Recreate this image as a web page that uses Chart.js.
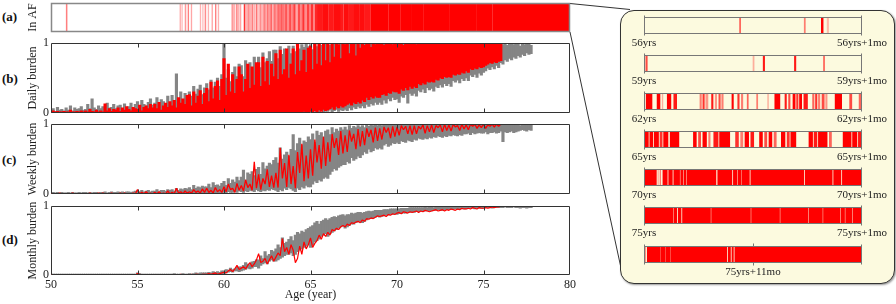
<!DOCTYPE html>
<html>
<head>
<meta charset="utf-8">
<script src="https://cdn.jsdelivr.net/npm/chart.js@4/dist/chart.umd.min.js"></script>
<style>
body{margin:0;background:#fff;width:896px;height:304px;position:relative;overflow:hidden;font-family:"Liberation Serif",serif}
canvas{position:absolute}
.tag{position:absolute;left:2px;font:bold 13px "Liberation Serif",serif;color:#111}
#zoombox{position:absolute;left:620px;top:10px;width:273px;height:272px;background:#fcfadf;border:1px solid #333;border-radius:14px;box-shadow:1px 1px 2px #999}
svg{position:absolute;left:0;top:0}
</style>
</head>
<body>
<svg width="896" height="304"><line x1="570" y1="3.5" x2="630" y2="9.5" stroke="#333" stroke-width="1"/><line x1="570" y1="32" x2="621" y2="268" stroke="#333" stroke-width="1"/></svg>
<div id="zoombox"></div>
<div class="tag" style="top:9px">(a)</div>
<div class="tag" style="top:71px">(b)</div>
<div class="tag" style="top:152px">(c)</div>
<div class="tag" style="top:232px">(d)</div>
<script>
// burden in percent, one bin every 1/8 year starting at age 50
// *Lo / *Hi = lowest and highest burden seen inside each bin
var startAge = 50;
var sampleStep = 0.125;

var dailyGreyHi = [
3,6,2,8,4,5,3,7, 4,10,3,7,5,6,9,4, 5,12,6,20,7,5,10,6, 9,4,14,7,8,12,6,10,
11,5,13,8,9,14,7,12, 16,9,18,12,10,15,20,11, 14,22,10,19,16,12,24,15, 25,15,56,20,30,18,28,22,
30,24,38,27,34,40,26,36, 42,33,47,36,44,50,38,55, 100,50,62,45,58,66,52,70, 68,52,75,60,72,64,80,70,
80,65,86,72,78,88,74,90, 90,78,95,84,92,88,96,85, 96,88,100,92,98,94,100,95, 98,91,100,95,100,97,99,100,
100,97,100,99,100,98,100,100, 100,99,100,100,98,100,100,100, 100,100,100,100,100,100,100,100, 100,100,100,100,100,100,100,100,
100,100,100,100,100,100,100,100, 100,100,100,100,100,100,100,100, 100,100,100,100,100,100,100,100, 100,100,100,100,100,100,100,100,
100,100,100,100,100,100,100,100, 100,100,100,100,100,100,100,100, 100,98,100,97,99,100,98,100, 100,96,100,98,99,100,97
];
var dailyGreyLo = [
0,0,0,0,0,0,0,0, 0,0,0,0,0,0,0,0, 0,0,0,0,0,0,0,0, 0,0,0,0,0,0,0,0,
0,0,0,0,0,0,0,0, 0,0,0,0,0,0,0,0, 0,0,0,0,0,0,0,0, 0,0,0,0,0,0,0,0,
0,0,0,0,0,0,0,0, 0,0,0,0,0,0,0,0, 0,0,0,0,0,0,0,0, 0,0,0,0,0,0,0,0,
0,0,0,0,0,0,0,0, 0,0,0,1,0,0,1,0, 0,1,0,0,2,0,1,0, 1,0,2,1,0,3,1,2,
2,4,1,3,5,2,4,3, 5,3,7,4,8,6,9,7, 10,7,12,9,13,11,15,12, 15,12,18,14,20,17,22,19,
20,15,24,22,26,14,28,25, 28,24,32,30,34,29,36,33, 35,31,38,36,40,37,42,39, 42,38,46,44,47,43,49,46,
50,46,54,52,55,51,57,54, 58,60,64,62,66,63,68,65, 72,70,76,74,78,76,80,78, 82,80,84,82,86,84,85
];
var dailyRedHi = [
0,3,0,2,1,0,2,0, 0,4,1,0,2,0,3,1, 3,0,5,2,0,4,1,3, 0,13,3,6,2,5,4,7,
2,7,4,9,5,3,8,6, 5,11,3,8,10,6,12,7, 12,6,15,4,10,14,8,16, 10,18,7,22,14,20,12,25,
26,10,30,14,24,32,12,28, 35,16,44,20,38,46,18,48, 78,25,70,30,55,28,48,66, 55,30,48,70,35,66,40,72,
72,38,80,45,74,40,70,52, 85,48,90,55,62,92,50,70, 92,55,100,60,75,90,58,93, 96,62,100,70,100,68,100,75,
100,72,100,80,100,98,78,100, 98,100,85,100,100,82,100,93, 100,97,100,100,94,100,98,100, 100,100,97,100,100,100,98,100,
100,100,100,97,100,100,100,100, 100,98,100,100,100,100,100,100, 100,100,100,100,99,100,100,100, 100,100,100,100,100,100,100,100,
100,100,100,100,100,100,100,100, 100,100,100,100,100,100,100,100, 100
];
var dailyRedLo = [
0,0,0,0,0,0,0,0, 0,0,0,0,0,0,0,0, 0,0,0,0,0,0,0,0, 0,0,0,0,0,0,0,0,
0,0,0,0,0,0,0,0, 0,0,0,0,0,0,0,0, 0,0,0,0,0,0,0,0, 0,0,0,0,0,0,0,0,
0,0,0,0,0,0,0,0, 0,0,0,0,0,0,0,0, 0,0,0,0,0,0,0,0, 0,0,0,0,0,0,0,0,
0,0,0,0,0,0,0,0, 0,0,0,0,0,0,0,0, 0,0,1,0,0,2,0,1, 2,0,3,1,4,2,5,3,
4,6,8,5,9,7,10,8, 10,12,14,11,15,13,16,14, 18,16,22,19,23,21,24,22, 22,26,27,25,29,28,31,30,
30,28,34,32,36,33,38,35, 38,36,42,40,43,41,45,44, 45,44,48,47,50,49,52,51, 52,51,55,54,56,55,58,57,
60,58,63,62,64,63,66,65, 66,68,70,72,71,73,72,74, 75
];
var weeklyGreyHi = [
1,2,1,2,1,2,1,1, 2,1,2,1,1,2,1,2, 2,1,2,1,2,2,1,2, 2,3,1,2,3,2,2,3,
2,3,2,3,3,2,3,4, 4,3,5,3,4,5,3,4, 4,6,3,5,5,4,6,5, 6,4,8,5,7,6,8,7,
9,6,12,8,10,9,11,10, 10,14,9,16,12,13,11,15, 18,12,22,15,20,17,24,19, 24,34,20,30,28,32,26,35,
38,28,45,36,40,44,42,48, 52,44,66,50,56,60,54,64, 85,62,72,80,70,76,74,82, 78,86,74,90,84,88,82,90,
92,85,95,88,93,90,95,92, 96,92,98,94,97,95,98,96, 98,95,100,97,99,98,100,98, 100,98,100,99,100,99,100,100,
100,100,100,100,100,100,100,100, 100,100,100,100,100,100,100,100, 100,100,100,100,100,100,100,100, 100,100,100,100,100,100,100,100,
100,100,100,100,100,100,100,100, 100,100,100,100,100,100,100,100, 100,99,100,100,100,99,100,100, 100,98,100,99,100,100,99
];
var weeklyGreyLo = [
0,0,0,0,0,0,0,0, 0,0,0,0,0,0,0,0, 0,0,0,0,0,0,0,0, 0,0,0,0,0,0,0,0,
0,0,0,0,0,0,0,0, 0,0,0,0,0,0,0,0, 0,0,0,0,0,0,0,0, 0,0,0,0,0,0,0,0,
0,0,0,0,0,0,0,0, 0,0,0,0,0,0,0,0, 2,1,3,2,2,3,2,4, 3,2,4,3,5,4,3,6,
4,3,5,4,6,5,7,6, 5,3,6,4,8,6,9,7, 5,3,8,6,10,8,12,10, 10,14,18,16,20,18,22,24,
22,28,32,36,34,38,40,42, 42,46,44,52,48,50,54,52, 56,60,58,64,60,62,66,64, 66,64,70,72,68,70,73,72,
74,72,76,75,74,77,76,75, 78,77,80,79,78,80,79,81, 80,82,81,83,82,81,83,82, 84,83,85,84,83,85,84,86,
86,87,85,88,86,87,88,87, 87,89,86,88,88,89,87,88, 90,75,89,88,89,90,88,89, 90,91,92,91,90,92,91
];
// weekly burden of the patient, one value every 1/8 year
var weeklyRed = [
0,0,0,0,1,0,0,0, 0,0,1,0,0,0,0,0, 0,0,1,0,0,0,1,0, 1,0,0,0,1,0,0,0,
1,0,1,0,0,0,1,0, 6,0,2,0,3,0,1,0, 2,0,3,0,1,0,4,0, 2,0,8,1,3,0,4,1,
3,1,6,2,4,1,7,2, 8,2,5,1,9,3,6,2, 10,3,14,6,8,2,15,5, 12,4,20,9,14,5,46,8,
28,6,22,14,35,10,26,9, 30,9,66,22,44,10,56,14, 40,8,60,30,72,18,55,22, 64,26,78,45,70,36,82,40,
74,46,86,66,80,56,90,58, 84,60,91,75,86,64,93,68, 90,70,94,82,92,74,95,76, 94,78,96,88,95,80,97,82,
96,84,98,92,97,86,98,85, 98,86,97,93,99,87,98,89, 99,88,98,95,99,89,100,91, 99,90,100,96,98,91,100,93,
99,92,100,97,100,94,99,95, 100,94,99,97,100,96,100,97, 100
];
var monthlyGreyHi = [
0,1,0,1,0,1,0,1, 0,1,0,0,1,0,1,0, 1,0,1,0,1,0,0,1, 0,1,0,1,0,0,1,0,
1,0,1,0,1,0,1,0, 3,2,1,1,1,1,1,1, 1,0,1,0,1,0,1,0, 1,2,1,1,1,2,1,1,
2,1,2,3,2,3,3,3, 3,4,3,5,4,5,4,6, 6,8,7,10,8,9,11,12, 12,14,18,16,15,19,20,22,
22,28,24,34,28,30,36,34, 38,44,40,54,46,48,52,56, 50,58,62,60,64,62,66,68, 70,72,76,78,74,78,80,82,
80,82,84,85,84,86,87,88, 86,88,88,90,89,90,91,91, 90,91,92,93,92,93,94,94, 94,94,95,95,95,96,96,96,
96,96,97,97,97,97,98,98, 98,98,98,98,98,99,98,99, 99,98,99,99,99,99,99,99, 99,99,100,100,99,100,100,100,
100,100,100,100,100,100,100,100, 100,100,100,100,100,100,100,100, 100,100,100,100,100,100,100,100, 100,100,100,100,100,100,100
];
var monthlyGreyLo = [
0,0,0,0,0,0,0,0, 0,0,0,0,0,0,0,0, 0,0,0,0,0,0,0,0, 0,0,0,0,0,0,0,0,
0,0,0,0,0,0,0,0, 0,0,0,0,0,0,0,0, 0,0,0,0,0,0,0,0, 0,0,0,0,0,0,0,0,
0,0,0,0,0,0,0,0, 0,0,0,0,0,0,0,0, 2,3,4,5,4,6,6,5, 6,7,8,10,9,10,12,12,
10,14,16,18,16,20,22,20, 20,22,24,26,28,30,30,32, 28,30,34,36,38,40,42,44, 40,44,48,50,52,56,58,60,
56,60,62,64,66,68,70,71, 68,70,72,74,74,76,77,78, 76,78,80,82,82,83,84,85, 84,85,86,87,87,88,88,89,
88,89,90,90,90,91,91,92, 91,92,92,93,92,93,93,93, 93,94,94,95,94,94,95,95, 95,95,96,96,95,96,96,96,
96,97,97,97,96,97,97,97, 97,98,98,98,97,98,98,98, 98,98,99,98,98,98,99,98, 98,97,98,98,97,98,98
];
// monthly burden of the patient, one value every 1/8 year
var monthlyRed = [
0,0,0,0,0,0,0,0, 0,0,0,0,0,0,0,0, 0,0,0,0,0,0,0,0, 0,0,0,0,0,0,0,0,
0,0,0,0,0,0,0,0, 2,1,0,0,0,0,0,0, 0,0,0,0,0,0,0,0, 0,0,0,0,1,0,0,0,
0,1,0,1,1,0,1,1, 1,2,1,2,3,1,2,3, 4,3,6,8,5,9,14,8, 10,12,9,14,18,12,16,22,
31,18,20,24,16,22,28,20, 26,32,28,53,34,40,30,44, 36,18,24,42,30,48,38,44, 54,40,46,50,58,52,60,56,
62,58,66,64,68,66,70,72, 70,74,72,76,75,77,78,76, 80,78,82,81,83,82,84,86, 85,86,87,85,88,87,89,88,
90,91,89,92,91,90,92,91, 92,93,91,93,92,94,93,92, 93,94,95,93,94,95,93,95, 94,96,95,94,96,95,97,96,
96,97,96,98,97,96,98,97, 97,98,97,98,99,98,99,99, 100
];

// AF episodes over the whole record: [start age, end age, fraction in AF]
var afEpisodes = [
[50.88,50.93,.5],
[57.45,57.5,.3],[57.56,57.6,.25],[57.75,57.8,.4],[57.92,57.96,.5],[58.1,58.14,.35],[58.62,58.66,.3],[58.76,58.8,.25],
[58.9,58.95,.45],[59.08,59.12,.3],[59.3,59.34,.35],[59.5,59.54,.5],[59.66,59.7,.3],
[60.45,60.52,.4],[60.56,60.62,.3],[60.7,60.76,.45],[60.8,60.86,.3],[60.92,60.98,.35],[61.16,61.22,.8],[61.3,61.36,.35],
[61.4,61.47,.45],[61.52,61.58,.3],[61.62,61.68,.5],[61.74,61.8,.3],[61.86,61.92,.55],[62.0,62.06,.3],[62.1,62.16,.45],
[62.22,62.27,.3],[62.3,62.37,.5],[62.4,62.46,.35],[62.5,62.57,.55],[62.62,62.67,.4],[62.7,62.77,.6],[62.82,62.87,.35],
[62.9,62.97,.55],[63.0,63.07,.4],[63.1,63.17,.6],[63.2,63.27,.5],[63.3,63.38,.65],[63.42,63.5,.55],[63.55,63.62,.7],
[63.66,63.74,.45],[63.78,63.86,.7],[63.9,63.98,.5],[64.02,64.12,.75],[64.16,64.24,.35],[64.28,64.38,.7],[64.42,64.5,.5],
[64.54,64.64,.8],[64.68,64.76,.45],[64.8,64.9,.75],[64.94,65.0,.55],[65.04,65.14,.8],[65.18,65.24,.5],[65.28,65.38,.85],
[65.4,65.7,.9],[65.73,66.0,.95],[66.04,66.3,.9],[66.33,66.7,.95],[66.72,66.9,.9],[66.94,67.2,.95],[67.23,67.5,.9],
[67.53,67.8,.95],[67.83,68.1,.95],[68.12,68.45,.9],[68.48,69.0,1],[69.03,69.5,1],[69.53,70.2,1],[70.23,70.8,1],
[70.83,71.5,1],[71.53,72.3,1],[72.33,73.0,1],[73.03,73.8,1],[73.83,74.6,1],[74.63,75.5,1],[75.53,80,1]
];

// one-month close-ups: [start day, end day, fraction in AF]
var zoom56 = [[13.15,13.3,.6],[22.05,22.2,.5],[24.4,24.65,1],[25.2,25.4,.25]];
var zoom59 = [[0.25,0.45,.7],[15.0,15.15,.3],[16.4,16.6,.9],[20.7,20.9,.9],[24.7,24.85,.6]];
var zoom62 = [[0.3,1.1,1],[1.8,2.2,1],[2.5,2.6,.3],[3.2,3.7,1],[4.1,4.5,.9],[7.7,7.9,.5],[8.1,8.3,.8],[8.5,8.8,.4],
[9.3,9.5,.9],[9.8,10.0,.4],[10.3,10.5,.7],[10.7,10.9,.5],[12.1,12.3,1],[12.9,13.1,.8],[13.4,13.6,.5],[14.2,14.35,.6],
[15.5,15.65,.5],[17.0,17.15,.25],[18.0,18.7,1],[19.4,19.6,.9],[19.9,20.1,.7],[20.5,20.8,1],[21.0,21.2,.8],[21.4,21.7,1],
[22.0,22.5,.9],[23.2,23.4,.6],[23.6,23.8,.8],[24.0,24.2,.5],[24.5,24.8,.7],[25.0,25.2,.4],[26.3,27.2,1],[28.3,28.6,.7],[29.6,30,.6]];
var zoom65 = [[0,0.6,1],[0.8,1.2,1],[1.4,2.0,1],[2.2,2.5,.8],[2.7,3.3,1],[3.6,4.8,1],[6.8,7.2,1],[7.5,7.8,.7],[8.1,8.6,1],
[8.9,9.1,.5],[9.6,10.2,.9],[10.4,11.8,1],[12.6,13.0,.8],[13.3,13.6,.5],[13.9,14.4,1],[14.7,15.1,.9],[15.9,16.3,1],
[16.6,16.9,.7],[17.2,17.6,1],[17.9,18.2,.6],[18.9,19.4,1],[19.7,20.0,.8],[20.2,20.9,1],[22.7,23.2,1],[23.4,23.8,.9],
[24.0,25.2,1],[25.5,25.8,.6],[27.4,28.5,1],[28.7,29.3,1],[29.5,30,.9]];
var zoom70 = [[0,1.7,1],[1.9,2.0,.3],[2.2,2.3,.5],[2.6,3.2,1],[3.4,3.9,1],[4.1,4.9,1],[5.05,5.35,1],[5.5,5.8,1],[5.95,9.9,1],
[10.15,12.1,1],[12.3,12.8,1],[12.95,13.3,1],[13.45,14.5,1],[14.7,22.0,1],[22.2,25.9,1],[26.1,27.1,1],[27.3,30,1]];
var zoom75 = [[0,3.95,1],[4.1,4.5,1],[4.7,5.1,1],[5.3,9.15,1],[9.3,14.65,1],[14.8,18.65,1],[18.8,22.55,1],[22.7,24.55,1],
[24.7,26.95,1],[27.1,27.6,1],[27.75,28.6,1],[28.75,30,1]];
var zoom7511 = [[0,0.15,1],[0.45,2.2,1],[2.3,2.9,1],[3.0,3.6,1],[3.7,11.4,1],[11.6,11.9,1],[12.1,12.3,1],[12.5,30,1]];

var ageTicks = [55, 60, 65, 70, 75];
var zoomStrips = [zoom56, zoom59, zoom62, zoom65, zoom70, zoom75, zoom7511];
var zoomLabels = [['56yrs','56yrs+1mo'],['59yrs','59yrs+1mo'],['62yrs','62yrs+1mo'],['65yrs','65yrs+1mo'],
                  ['70yrs','70yrs+1mo'],['75yrs','75yrs+1mo'],['75yrs+11mo']];

var serif = '"Liberation Serif", "DejaVu Serif", serif';
var ink = '#222';
var greyInk = '#858585';

function makeCanvas(left, top, w, h){
    var c = document.createElement('canvas');
    c.width = w; c.height = h;
    c.style.left = left + 'px'; c.style.top = top + 'px';
    document.body.appendChild(c);
    return c;
}

function toPoints(arr){
    return arr.map(function(v, i){ return {x: startAge + i * sampleStep, y: v / 100}; });
}

function toRanges(lo, hi){
    return lo.map(function(v, i){ return {x: startAge + i * sampleStep, y: [v / 100, hi[i] / 100]}; });
}

function afColors(list){
    return list.map(function(e){ return 'rgba(255,0,0,' + e[2] + ')'; });
}

function rangeSet(lo, hi, colour, order){
    return {type: 'bar', data: toRanges(lo, hi), backgroundColor: colour, borderWidth: 0,
            grouped: false, barThickness: 2.5, minBarLength: 1, order: order};
}

function lineSet(arr, colour, width, order){
    return {type: 'line', data: toPoints(arr), borderColor: colour, borderWidth: width,
            borderJoinStyle: 'bevel', pointRadius: 0, order: order};
}

// frame round the plot area plus small inward ticks
var framePlugin = {
    id: 'frame',
    afterDatasetsDraw: function(chart, args, opts){
        var a = chart.chartArea, ctx = chart.ctx, x = chart.scales.x;
        var l = Math.round(a.left) + 0.5, r = Math.round(a.right) - 0.5;
        var t = Math.round(a.top) + 0.5, b = Math.round(a.bottom) - 0.5;
        ctx.save();
        ctx.strokeStyle = opts.color;
        ctx.lineWidth = opts.width;
        ctx.beginPath();
        if(opts.strip){
            ctx.moveTo(l, t); ctx.lineTo(r, t);
            ctx.moveTo(l, b); ctx.lineTo(r, b);
            ctx.moveTo(l, t - 2); ctx.lineTo(l, b + 2);
            ctx.moveTo(r, t - 2); ctx.lineTo(r, b + 2);
            (opts.ticks || []).forEach(function(v){
                var px = Math.round(x.getPixelForValue(v)) + 0.5;
                ctx.moveTo(px, t - 3); ctx.lineTo(px, t);
                ctx.moveTo(px, b); ctx.lineTo(px, b + 3);
            });
        }else{
            ctx.rect(l, t, r - l, b - t);
            (opts.ticks || []).forEach(function(v){
                var px = Math.round(x.getPixelForValue(v)) + 0.5;
                ctx.moveTo(px, b); ctx.lineTo(px, b - 4);
                ctx.moveTo(px, t); ctx.lineTo(px, t + 4);
            });
        }
        ctx.stroke();
        ctx.restore();
    }
};

function yAxis(title, showTicks){
    return {
        type: 'linear', min: 0, max: 1, offset: false,
        afterFit: function(s){ s.width = 51; },
        grid: {display: false, drawTicks: false},
        border: {display: false},
        ticks: {display: showTicks, stepSize: 1, padding: 2, color: ink, font: {family: serif, size: 12}},
        title: {display: true, text: title, color: ink, font: {family: serif, size: 12}, padding: {top: 26, bottom: 0}}
    };
}

function xAxis(showLabels){
    var ax = {
        type: 'linear', min: 50, max: 80, offset: false, display: showLabels,
        grid: {display: false, drawTicks: false, offset: false},
        border: {display: false},
        ticks: {stepSize: 5, padding: 3, maxRotation: 0, color: ink, font: {family: serif, size: 12}}
    };
    if(showLabels){
        ax.afterFit = function(s){ s.height = 29; };
        ax.title = {display: true, text: 'Age (year)', color: ink, font: {family: serif, size: 12}, padding: {top: 0, bottom: 2}};
    }
    return ax;
}

// (a) In AF barcode
new Chart(makeCanvas(0, 0, 580, 40), {
    type: 'bar',
    data: {
        datasets: [{
            data: afEpisodes.map(function(e){ return {x: [e[0], e[1]], y: 0.5}; }),
            backgroundColor: afColors(afEpisodes),
            borderWidth: 0,
            barThickness: 29
        }]
    },
    options: {
        indexAxis: 'y', responsive: false, animation: false,
        layout: {padding: {left: 0, right: 10, top: 3, bottom: 8}},
        plugins: {legend: {display: false}, tooltip: {enabled: false},
                  frame: {color: '#888', width: 1.5, ticks: []}},
        scales: {x: xAxis(false), y: yAxis('In AF', false)}
    },
    plugins: [framePlugin]
});

function burdenChart(top, height, datasets, title, last){
    new Chart(makeCanvas(0, top, 580, height), {
        type: 'bar',
        data: {datasets: datasets},
        options: {
            responsive: false, animation: false,
            layout: {padding: {left: 0, right: 10, top: 9, bottom: last ? 0 : 9}},
            plugins: {legend: {display: false}, tooltip: {enabled: false},
                      frame: {color: '#333', width: 1, ticks: ageTicks}},
            scales: {x: xAxis(last), y: yAxis(title, true)}
        },
        plugins: [framePlugin]
    });
}

burdenChart(34, 88, [rangeSet(dailyRedLo, dailyRedHi, '#ff0000', 0), rangeSet(dailyGreyLo, dailyGreyHi, greyInk, 1)],
            'Daily burden', false);
burdenChart(115, 88, [lineSet(weeklyRed, '#ff0000', 1.3, 0), rangeSet(weeklyGreyLo, weeklyGreyHi, greyInk, 1)],
            'Weekly burden', false);
burdenChart(197, 107, [lineSet(monthlyRed, '#ff0000', 1.2, 0), rangeSet(monthlyGreyLo, monthlyGreyHi, greyInk, 1)],
            'Monthly burden', true);

// close-up strips inside the box
var stripTops = [17, 55, 93, 131, 169, 207, 246];
zoomStrips.forEach(function(strip, k){
    var labels = zoomLabels[k];
    var tickVals = labels.length == 2 ? [0, 30] : [15];
    new Chart(makeCanvas(620, stripTops[k] - 5, 275, 40), {
        type: 'bar',
        data: {
            datasets: [{
                data: strip.map(function(e){ return {x: [e[0], e[1]], y: 0.5}; }),
                backgroundColor: afColors(strip),
                borderWidth: 0,
                barThickness: 17
            }]
        },
        options: {
            indexAxis: 'y', responsive: false, animation: false,
            layout: {padding: {left: 24, right: 33, top: 5, bottom: 0}},
            plugins: {legend: {display: false}, tooltip: {enabled: false},
                      frame: {color: '#777', width: 1, strip: true, ticks: labels.length == 2 ? [] : [15]}},
            scales: {
                x: {
                    type: 'linear', min: 0, max: 30,
                    afterFit: function(s){ s.height = 18; },
                    afterBuildTicks: function(s){ s.ticks = tickVals.map(function(v){ return {value: v}; }); },
                    grid: {display: false, drawTicks: false},
                    border: {display: false},
                    ticks: {autoSkip: false, maxRotation: 0, padding: 3, color: ink, font: {family: serif, size: 11},
                            callback: function(v, i){ return labels[i]; }}
                },
                y: {type: 'linear', min: 0, max: 1, offset: false, display: false}
            }
        },
        plugins: [framePlugin]
    });
});
</script>
</body>
</html>
